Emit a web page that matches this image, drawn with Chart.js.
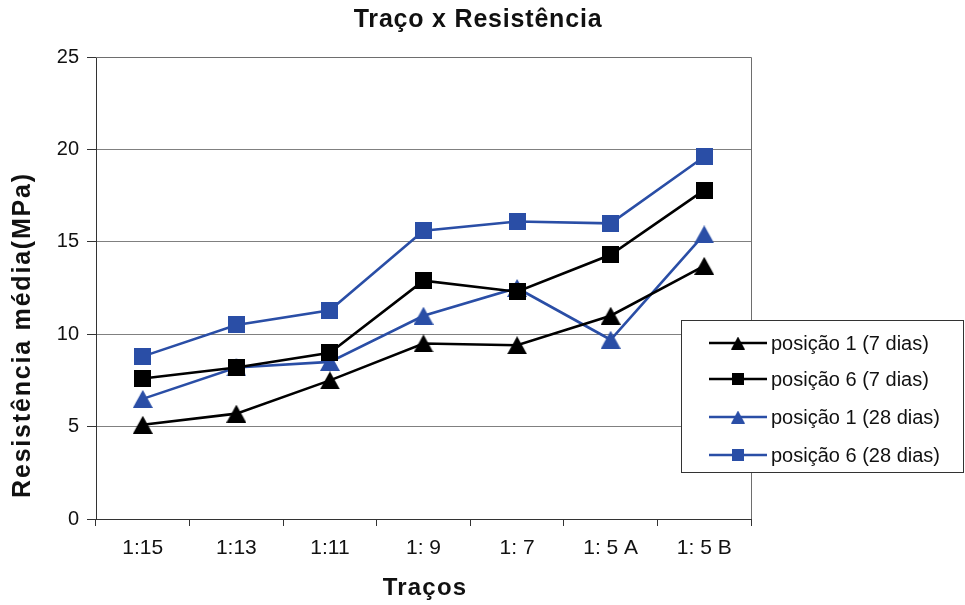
<!DOCTYPE html>
<html>
<head>
<meta charset="utf-8">
<script src="https://cdn.jsdelivr.net/npm/chart.js@4/dist/chart.umd.min.js"></script>
<style>
  html, body { margin: 0; padding: 0; background: #fff; }
  #wrap { width: 965px; height: 605px; position: relative; }
</style>
</head>
<body>
<div id="wrap"><canvas id="c" width="965" height="605"></canvas></div>
<script>
// Categories (traços) and mean compressive strength (MPa)
const tracos = ['1:15', '1:13', '1:11', '1: 9', '1: 7', '1: 5 A', '1: 5 B'];
const pos1Dias7  = [5.1, 5.7, 7.5, 9.5, 9.4, 11.0, 13.7];
const pos6Dias7  = [7.6, 8.2, 9.0, 12.9, 12.3, 14.3, 17.8];
const pos1Dias28 = [6.5, 8.2, 8.5, 11.0, 12.5, 9.7, 15.4];
const pos6Dias28 = [8.8, 10.5, 11.3, 15.6, 16.1, 16.0, 19.6];
const seriesNames = ['posição 1 (7 dias)', 'posição 6 (7 dias)', 'posição 1 (28 dias)', 'posição 6 (28 dias)'];
const yTicks = [0, 5, 10, 15, 20, 25];

const BLACK = '#000000';
const BLUE = '#2a4ea6';
const FONT = '"Liberation Sans", Arial, sans-serif';

// Marker images, centred on their bounding box
function triangleMarker(color, w, h) {
  const c = document.createElement('canvas');
  c.width = w; c.height = h;
  const g = c.getContext('2d');
  g.fillStyle = color;
  g.beginPath();
  g.moveTo(w / 2, 0);
  g.lineTo(w, h);
  g.lineTo(0, h);
  g.closePath();
  g.fill();
  return c;
}
function squareMarker(color, s) {
  const c = document.createElement('canvas');
  c.width = s; c.height = s;
  const g = c.getContext('2d');
  g.fillStyle = color;
  g.fillRect(0, 0, s, s);
  return c;
}

const markers = [
  triangleMarker(BLACK, 20, 18),
  squareMarker(BLACK, 17),
  triangleMarker(BLUE, 20, 18),
  squareMarker(BLUE, 17)
];
const legendMarkers = [
  triangleMarker(BLACK, 14, 13),
  squareMarker(BLACK, 12),
  triangleMarker(BLUE, 14, 13),
  squareMarker(BLUE, 12)
];
const colors = [BLACK, BLACK, BLUE, BLUE];
const values = [pos1Dias7, pos6Dias7, pos1Dias28, pos6Dias28];

const datasets = values.map((v, i) => ({
  label: seriesNames[i],
  data: v,
  borderColor: colors[i],
  backgroundColor: colors[i],
  borderWidth: 2.6,
  pointStyle: markers[i],
  pointRadius: 10,
  pointHoverRadius: 10,
  tension: 0,
  fill: false
}));

// Chart decorations: titles, plot frame and legend box
const decor = {
  id: 'decor',
  afterDraw(chart) {
    const { ctx, chartArea: a } = chart;
    ctx.save();
    // plot frame (top and right)
    ctx.strokeStyle = '#6e6e6e';
    ctx.lineWidth = 1;
    ctx.beginPath();
    ctx.moveTo(a.left, a.top + 0.5);
    ctx.lineTo(a.right + 0.5, a.top + 0.5);
    ctx.lineTo(a.right + 0.5, a.bottom);
    ctx.stroke();

    // chart title
    ctx.fillStyle = '#111';
    ctx.textAlign = 'left';
    ctx.textBaseline = 'middle';
    ctx.font = 'bold 25px ' + FONT;
    ctx.letterSpacing = '0.8px';
    let t = 'Traço x Resistência';
    let w = ctx.measureText(t).width;
    ctx.fillText(t, 478 - w / 2, 20);

    // x axis title
    ctx.font = 'bold 24px ' + FONT;
    ctx.letterSpacing = '1.2px';
    t = 'Traços';
    w = ctx.measureText(t).width;
    ctx.fillText(t, 425 - w / 2, 588);

    // y axis title
    ctx.save();
    ctx.translate(23, 335);
    ctx.rotate(-Math.PI / 2);
    ctx.font = 'bold 25px ' + FONT;
    ctx.letterSpacing = '1.8px';
    t = 'Resistência média(MPa)';
    w = ctx.measureText(t).width;
    ctx.fillText(t, -w / 2, 0);
    ctx.restore();
    ctx.letterSpacing = '0px';

    // legend
    const bx = 681, by = 320, bw = 283, bh = 153;
    ctx.fillStyle = '#fff';
    ctx.fillRect(bx, by, bw, bh);
    ctx.strokeStyle = '#333';
    ctx.lineWidth = 1;
    ctx.strokeRect(bx + 0.5, by + 0.5, bw - 1, bh - 1);
    const rows = [343, 379, 417, 455];
    ctx.font = '20px ' + FONT;
    ctx.textAlign = 'left';
    ctx.textBaseline = 'middle';
    rows.forEach((y, i) => {
      ctx.strokeStyle = colors[i];
      ctx.lineWidth = 2.5;
      ctx.beginPath();
      ctx.moveTo(709, y);
      ctx.lineTo(767, y);
      ctx.stroke();
      const m = legendMarkers[i];
      ctx.drawImage(m, 738 - m.width / 2, y - m.height / 2);
      ctx.fillStyle = '#111';
      ctx.fillText(seriesNames[i], 771, y + 1);
    });
    ctx.restore();
  }
};

new Chart(document.getElementById('c'), {
  type: 'line',
  data: { labels: tracos, datasets },
  plugins: [decor],
  options: {
    responsive: false,
    animation: false,
    events: [],
    layout: { padding: { top: 57, right: 214, left: 0, bottom: 0 } },
    plugins: {
      legend: { display: false },
      title: { display: false },
      tooltip: { enabled: false }
    },
    scales: {
      x: {
        type: 'category',
        offset: true,
        afterFit(s) { s.height = 86; },
        grid: {
          offset: true,
          drawOnChartArea: false,
          drawTicks: true,
          tickLength: 7,
          color: '#333',
          tickColor: '#333'
        },
        border: { color: '#333', width: 1 },
        ticks: {
          color: '#111',
          font: { family: FONT, size: 21 },
          padding: 10,
          maxRotation: 0,
          autoSkip: false
        }
      },
      y: {
        min: 0,
        max: 25,
        afterFit(s) { s.width = 96; },
        afterBuildTicks(s) { s.ticks = yTicks.map(v => ({ value: v })); },
        grid: {
          drawOnChartArea: true,
          drawTicks: true,
          tickLength: 9,
          color: '#808080',
          tickColor: '#333',
          lineWidth: 1
        },
        border: { color: '#333', width: 1 },
        ticks: {
          color: '#111',
          font: { family: FONT, size: 20 },
          padding: 8
        }
      }
    }
  }
});
</script>
</body>
</html>
